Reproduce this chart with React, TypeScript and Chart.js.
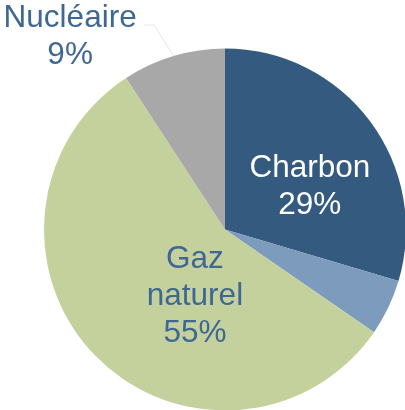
import React, { useEffect, useRef } from "react";
import { Chart, ArcElement, PieController } from "chart.js";

Chart.register(ArcElement, PieController);

const categories = ["Charbon", "Pétrole", "Gaz naturel", "Nucléaire"];
const shares = [29.6, 5.0, 56.2, 9.2];
const shownPercents = ["29%", "", "55%", "9%"];
const labelWords = [["Charbon"], [], ["Gaz", "naturel"], ["Nucléaire"]];
const sliceColors = ["#345A7F", "#7D9BBC", "#C4D19C", "#A8A8A8"];

const FONT = '31.5px "Liberation Sans", Arial, sans-serif';
const LINE_H = 37;
const CAP_HALF = 11;

// placement of each label: angle shift (deg) from slice mid angle, distance from centre, colour, leader line
const placements = [
  { shift: 8.8, dist: 96, color: "#FFFFFF", leader: false },
  null,
  { shift: -20.7, dist: 71, color: "#3E6794", leader: false },
  { shift: -21.9, dist: 249, color: "#3E6794", leader: true },
];

const labelPlugin = {
  id: "sliceLabels",
  afterDatasetsDraw(chart: any) {
    const ctx = chart.ctx;
    const meta = chart.getDatasetMeta(0);
    ctx.save();
    ctx.font = FONT;
    ctx.textAlign = "center";
    ctx.textBaseline = "alphabetic";
    meta.data.forEach((arc: any, i: number) => {
      const p = placements[i];
      if (!p) return;
      const { x, y, startAngle, endAngle, outerRadius } = arc.getProps(
        ["x", "y", "startAngle", "endAngle", "outerRadius"],
        true
      );
      const mid = (startAngle + endAngle) / 2;
      const a = mid + (p.shift * Math.PI) / 180;
      const cx = x + Math.cos(a) * p.dist;
      const cy = y + Math.sin(a) * p.dist;
      const lines = [...labelWords[i], shownPercents[i]];
      const n = lines.length;
      ctx.fillStyle = p.color;
      let maxW = 0;
      lines.forEach((t, k) => {
        const by = cy + (k - (n - 1) / 2) * LINE_H + CAP_HALF;
        ctx.fillText(t, cx, by);
        maxW = Math.max(maxW, ctx.measureText(t).width);
      });
      if (p.leader) {
        const firstBase = cy + (0 - (n - 1) / 2) * LINE_H + CAP_HALF;
        const right = cx + maxW / 2;
        const ly = firstBase - 2;
        const ox = x + Math.cos(mid) * outerRadius;
        const oy = y + Math.sin(mid) * outerRadius;
        ctx.strokeStyle = "#E6E6E6";
        ctx.lineWidth = 1;
        ctx.beginPath();
        ctx.moveTo(ox, oy);
        ctx.lineTo(right + 17.5, ly);
        ctx.lineTo(right + 7.5, ly);
        ctx.stroke();
      }
    });
    ctx.restore();
  },
};

export default function App() {
  const ref = useRef<HTMLCanvasElement | null>(null);
  useEffect(() => {
    if (!ref.current) return;
    const chart = new Chart(ref.current, {
      type: "pie",
      data: {
        labels: categories,
        datasets: [
          {
            data: shares,
            backgroundColor: sliceColors,
            borderWidth: 0,
          },
        ],
      },
      options: {
        responsive: false,
        animation: false,
        events: [],
        layout: { padding: { left: 44, right: 44, top: 48.5, bottom: 49.5 } },
        plugins: {
          legend: { display: false },
          tooltip: { enabled: false },
        },
      },
      plugins: [labelPlugin],
    });
    return () => chart.destroy();
  }, []);
  return (
    <div
      style={{
        position: "fixed",
        left: 0,
        top: 0,
        width: 405,
        height: 410,
        overflow: "hidden",
        background: "#FFFFFF",
      }}
    >
      <canvas ref={ref} width={450} height={460} style={{ display: "block" }} />
    </div>
  );
}
